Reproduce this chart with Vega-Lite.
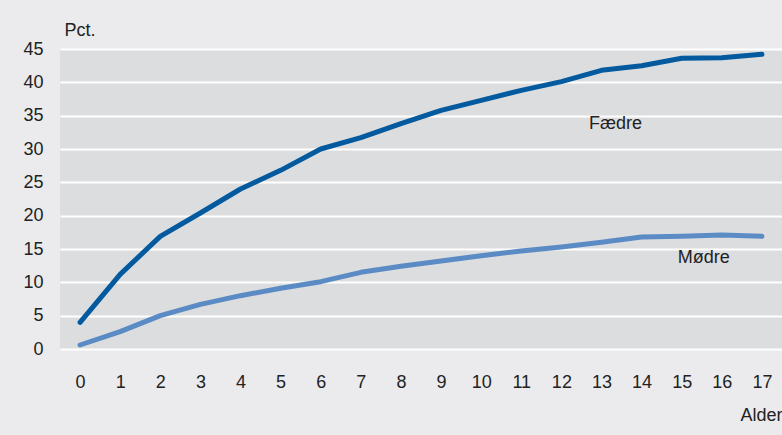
{
  "$schema": "https://vega.github.io/schema/vega-lite/v6.json",
  "width": 722,
  "height": 300,
  "autosize": "none",
  "padding": {"left": 60, "top": 49, "right": 0, "bottom": 86},
  "background": "#ebebed",
  "config": {
    "view": {"fill": "#dcdddf", "stroke": null},
    "font": "Liberation Sans",
    "axis": {"labelFont": "Liberation Sans", "titleFont": "Liberation Sans", "labelColor": "#222222", "titleColor": "#222222"}
  },
  "datasets": {
    "series": [
      {"alder": 0, "pct": 4.0, "gruppe": "Fædre"},
      {"alder": 1, "pct": 11.2, "gruppe": "Fædre"},
      {"alder": 2, "pct": 16.9, "gruppe": "Fædre"},
      {"alder": 3, "pct": 20.4, "gruppe": "Fædre"},
      {"alder": 4, "pct": 24.0, "gruppe": "Fædre"},
      {"alder": 5, "pct": 26.8, "gruppe": "Fædre"},
      {"alder": 6, "pct": 30.0, "gruppe": "Fædre"},
      {"alder": 7, "pct": 31.7, "gruppe": "Fædre"},
      {"alder": 8, "pct": 33.8, "gruppe": "Fædre"},
      {"alder": 9, "pct": 35.8, "gruppe": "Fædre"},
      {"alder": 10, "pct": 37.3, "gruppe": "Fædre"},
      {"alder": 11, "pct": 38.8, "gruppe": "Fædre"},
      {"alder": 12, "pct": 40.1, "gruppe": "Fædre"},
      {"alder": 13, "pct": 41.8, "gruppe": "Fædre"},
      {"alder": 14, "pct": 42.5, "gruppe": "Fædre"},
      {"alder": 15, "pct": 43.6, "gruppe": "Fædre"},
      {"alder": 16, "pct": 43.7, "gruppe": "Fædre"},
      {"alder": 17, "pct": 44.2, "gruppe": "Fædre"},
      {"alder": 0, "pct": 0.6, "gruppe": "Mødre"},
      {"alder": 1, "pct": 2.6, "gruppe": "Mødre"},
      {"alder": 2, "pct": 5.0, "gruppe": "Mødre"},
      {"alder": 3, "pct": 6.7, "gruppe": "Mødre"},
      {"alder": 4, "pct": 8.0, "gruppe": "Mødre"},
      {"alder": 5, "pct": 9.1, "gruppe": "Mødre"},
      {"alder": 6, "pct": 10.1, "gruppe": "Mødre"},
      {"alder": 7, "pct": 11.5, "gruppe": "Mødre"},
      {"alder": 8, "pct": 12.4, "gruppe": "Mødre"},
      {"alder": 9, "pct": 13.2, "gruppe": "Mødre"},
      {"alder": 10, "pct": 14.0, "gruppe": "Mødre"},
      {"alder": 11, "pct": 14.7, "gruppe": "Mødre"},
      {"alder": 12, "pct": 15.3, "gruppe": "Mødre"},
      {"alder": 13, "pct": 16.0, "gruppe": "Mødre"},
      {"alder": 14, "pct": 16.8, "gruppe": "Mødre"},
      {"alder": 15, "pct": 16.9, "gruppe": "Mødre"},
      {"alder": 16, "pct": 17.1, "gruppe": "Mødre"},
      {"alder": 17, "pct": 16.9, "gruppe": "Mødre"}
    ],
    "labels": [
      {"alder": 13.35, "pct": 33.8, "gruppe": "Fædre"},
      {"alder": 15.55, "pct": 13.7, "gruppe": "Mødre"}
    ]
  },
  "encoding": {
    "x": {
      "field": "alder", "type": "quantitative",
      "scale": {"domain": [-0.5, 17.5], "nice": false, "zero": false},
      "axis": {
        "values": [0,1,2,3,4,5,6,7,8,9,10,11,12,13,14,15,16,17],
        "grid": false, "domain": false, "ticks": false, "labelOverlap": false,
        "labelFontSize": 18, "labelPadding": 24,
        "title": "Alder", "titleFontSize": 18, "titleFontWeight": "normal",
        "titleAnchor": "end", "titleAlign": "right", "titleX": 722, "titleY": 71, "titleBaseline": "alphabetic"
      }
    },
    "y": {
      "field": "pct", "type": "quantitative",
      "scale": {"domain": [0, 45], "nice": false, "zero": true},
      "axis": {
        "values": [0,5,10,15,20,25,30,35,40,45],
        "tickCount": 10,
        "grid": true, "gridColor": "#ffffff", "gridWidth": 2, "gridOpacity": 1,
        "domain": false, "ticks": false, "labelOverlap": false,
        "labelFontSize": 18, "labelPadding": 17,
        "title": "Pct.", "titleFontSize": 18, "titleFontWeight": "normal",
        "titleAngle": 0, "titleAlign": "left", "titleBaseline": "alphabetic",
        "titleX": 4, "titleY": -14
      }
    }
  },
  "layer": [
    {
      "data": {"name": "series"},
      "mark": {"type": "line", "strokeWidth": 5, "strokeCap": "round", "strokeJoin": "round"},
      "encoding": {
        "color": {
          "field": "gruppe", "type": "nominal",
          "scale": {"domain": ["Fædre", "Mødre"], "range": ["#035a9e", "#5b8bc4"]},
          "legend": null
        }
      }
    },
    {
      "data": {"name": "labels"},
      "mark": {"type": "text", "fontSize": 18, "color": "#222222", "align": "center", "baseline": "middle"},
      "encoding": {
        "text": {"field": "gruppe"}
      }
    }
  ]
}
